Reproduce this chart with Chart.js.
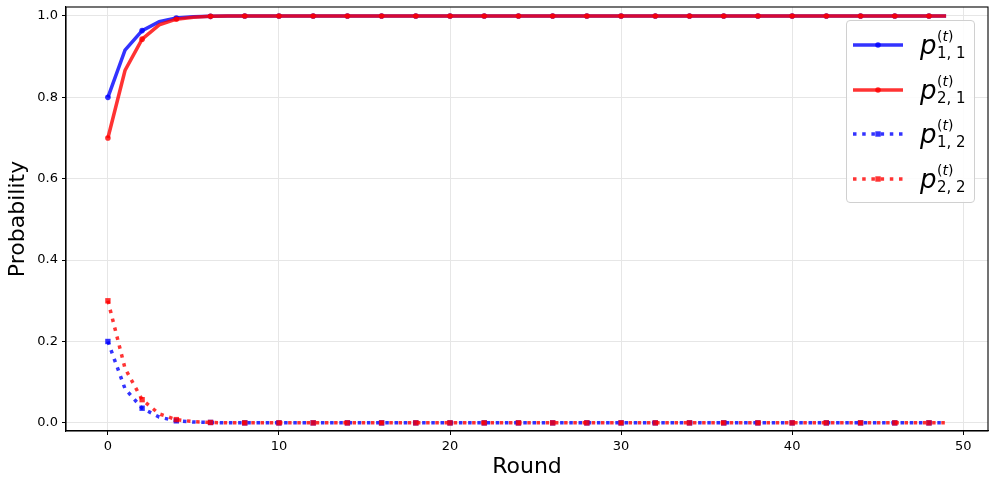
<!DOCTYPE html>
<html>
<head>
<meta charset="utf-8">
<script src="https://cdn.jsdelivr.net/npm/chart.js@4.4.1/dist/chart.umd.min.js"></script>
<style>
  html, body { margin:0; padding:0; background:#fff; }
  #wrap { position:relative; width:996px; height:489px; }
  #legend { position:absolute; left:846px; top:20px; width:127px; height:181px;
    border:1px solid #d0d0d0; border-radius:4px; background:rgba(255,255,255,0.85);
    font-family:"DejaVu Sans", sans-serif; color:#000; }
  .row { position:absolute; left:0; height:44px; width:100%; }
  .row svg { position:absolute; left:6px; top:17px; }
  .p { position:absolute; left:73px; top:9px; font-size:26px; line-height:26px; font-style:italic; }
  .up { position:absolute; left:90px; top:6px; font-size:14px; line-height:14px; }
  .dn { position:absolute; left:90px; top:23px; font-size:15px; line-height:15px; white-space:nowrap; }
</style>
</head>
<body>
<div id="wrap">
  <canvas id="c"></canvas>
  <div id="legend"></div>
</div>
<script>
const rounds = [
  0, 1, 2, 3, 4, 5, 6, 7, 8, 9,
  10, 11, 12, 13, 14, 15, 16, 17, 18, 19,
  20, 21, 22, 23, 24, 25, 26, 27, 28, 29,
  30, 31, 32, 33, 34, 35, 36, 37, 38, 39,
  40, 41, 42, 43, 44, 45, 46, 47, 48, 49
];

// p_{1,1}
const p11 = [
  0.800, 0.916, 0.964, 0.986, 0.995, 0.998, 0.999, 1.000, 1.000, 1.000,
  1.000, 1.000, 1.000, 1.000, 1.000, 1.000, 1.000, 1.000, 1.000, 1.000,
  1.000, 1.000, 1.000, 1.000, 1.000, 1.000, 1.000, 1.000, 1.000, 1.000,
  1.000, 1.000, 1.000, 1.000, 1.000, 1.000, 1.000, 1.000, 1.000, 1.000,
  1.000, 1.000, 1.000, 1.000, 1.000, 1.000, 1.000, 1.000, 1.000, 1.000
];
// p_{2,1}
const p21 = [
  0.700, 0.866, 0.943, 0.978, 0.992, 0.997, 0.999, 1.000, 1.000, 1.000,
  1.000, 1.000, 1.000, 1.000, 1.000, 1.000, 1.000, 1.000, 1.000, 1.000,
  1.000, 1.000, 1.000, 1.000, 1.000, 1.000, 1.000, 1.000, 1.000, 1.000,
  1.000, 1.000, 1.000, 1.000, 1.000, 1.000, 1.000, 1.000, 1.000, 1.000,
  1.000, 1.000, 1.000, 1.000, 1.000, 1.000, 1.000, 1.000, 1.000, 1.000
];
// p_{1,2}
const p12 = [
  0.200, 0.084, 0.036, 0.014, 0.005, 0.002, 0.001, 0.000, 0.000, 0.000,
  0.000, 0.000, 0.000, 0.000, 0.000, 0.000, 0.000, 0.000, 0.000, 0.000,
  0.000, 0.000, 0.000, 0.000, 0.000, 0.000, 0.000, 0.000, 0.000, 0.000,
  0.000, 0.000, 0.000, 0.000, 0.000, 0.000, 0.000, 0.000, 0.000, 0.000,
  0.000, 0.000, 0.000, 0.000, 0.000, 0.000, 0.000, 0.000, 0.000, 0.000
];
// p_{2,2}
const p22 = [
  0.300, 0.134, 0.057, 0.022, 0.008, 0.003, 0.001, 0.000, 0.000, 0.000,
  0.000, 0.000, 0.000, 0.000, 0.000, 0.000, 0.000, 0.000, 0.000, 0.000,
  0.000, 0.000, 0.000, 0.000, 0.000, 0.000, 0.000, 0.000, 0.000, 0.000,
  0.000, 0.000, 0.000, 0.000, 0.000, 0.000, 0.000, 0.000, 0.000, 0.000,
  0.000, 0.000, 0.000, 0.000, 0.000, 0.000, 0.000, 0.000, 0.000, 0.000
];

const xTicks = [0, 10, 20, 30, 40, 50];
const yTicks = [0.0, 0.2, 0.4, 0.6, 0.8, 1.0];
const seriesSubs = ['1, 1', '2, 1', '1, 2', '2, 2'];

const BLUE = 'rgba(0,0,255,0.8)';
const RED = 'rgba(255,0,0,0.8)';
const DOT = [3.5, 5.7];

function mk(vals, sub, color, dotted, order) {
  return {
    label: 'p' + sub,
    sub: sub,
    data: rounds.map((r, i) => ({ x: r, y: vals[i] })),
    borderColor: color,
    backgroundColor: color,
    borderWidth: 3.5,
    borderDash: dotted ? DOT : [],
    pointStyle: dotted ? 'rect' : 'circle',
    pointRadius: ctx => ctx.dataIndex % 2 === 0 ? (dotted ? 3.8 : 2.8) : 0,
    pointHoverRadius: 0,
    pointBorderWidth: 0,
    pointBackgroundColor: color,
    tension: 0,
    fill: false,
    order: order,
  };
}

const datasets = [
  mk(p11, seriesSubs[0], BLUE, false, 4),
  mk(p21, seriesSubs[1], RED, false, 3),
  mk(p12, seriesSubs[2], BLUE, true, 2),
  mk(p22, seriesSubs[3], RED, true, 1),
];

const frame = {
  id: 'frame',
  afterDraw(chart) {
    const { ctx, chartArea: a } = chart;
    ctx.save();
    ctx.strokeStyle = '#000';
    ctx.lineWidth = 1.1;
    ctx.strokeRect(a.left, a.top, a.right - a.left, a.bottom - a.top);
    ctx.restore();
  }
};

const font = { family: '"DejaVu Sans", sans-serif', size: 13 };

const chart = new Chart(document.getElementById('c').getContext('2d'), {
  type: 'line',
  data: { datasets: datasets },
  options: {
    responsive: true, maintainAspectRatio: false, animation: false,
    layout: { padding: { top: 7, right: 8, left: 0, bottom: 0 } },
    plugins: { legend: { display: false }, tooltip: { enabled: false } },
    scales: {
      x: {
        type: 'linear', min: -2.45, max: 51.45,
        afterBuildTicks: s => { s.ticks = xTicks.map(v => ({ value: v })); },
        afterFit: s => { s.height = 58; },
        ticks: { color: '#000', font: font, padding: 4, maxRotation: 0, callback: v => String(v) },
        grid: { color: '#e6e6e6', lineWidth: 1, tickColor: '#000', tickLength: 4 },
        border: { color: '#000', width: 1.1 },
        title: { display: true, text: 'Round', color: '#000', font: { family: '"DejaVu Sans", sans-serif', size: 22 }, padding: { top: 0, bottom: 9 } }
      },
      y: {
        min: -0.02, max: 1.022,
        afterBuildTicks: s => { s.ticks = yTicks.map(v => ({ value: v })); },
        afterFit: s => { s.width = 66; s.paddingTop = 0; },
        ticks: { color: '#000', font: font, padding: 4, callback: v => Number(v).toFixed(1) },
        grid: { color: '#e6e6e6', lineWidth: 1, tickColor: '#000', tickLength: 4 },
        border: { color: '#000', width: 1.1 },
        title: { display: true, text: 'Probability', color: '#000', font: { family: '"DejaVu Sans", sans-serif', size: 22 }, padding: { top: 5, bottom: 0 } }
      }
    }
  },
  plugins: [frame]
});

// HTML legend so the labels can carry sub/superscripts
const leg = document.getElementById('legend');
chart.data.datasets.forEach((d, i) => {
  const row = document.createElement('div');
  row.className = 'row';
  row.style.top = (2 + i * 44.7) + 'px';
  const dash = d.borderDash.length ? `stroke-dasharray="${d.borderDash.join(' ')}"` : '';
  const mark = d.pointStyle === 'rect'
    ? `<rect x="22.3" y="2.3" width="5.4" height="5.4" fill="${d.borderColor}"/>`
    : `<circle cx="25" cy="5" r="2.8" fill="${d.borderColor}"/>`;
  row.innerHTML =
    `<svg width="50" height="10"><line x1="0" y1="5" x2="50" y2="5" stroke="${d.borderColor}" stroke-width="3.5" ${dash}/>${mark}</svg>` +
    `<span class="p">p</span><span class="up">(<i>t</i>)</span><span class="dn">${d.sub}</span>`;
  leg.appendChild(row);
});
</script>
</body>
</html>
